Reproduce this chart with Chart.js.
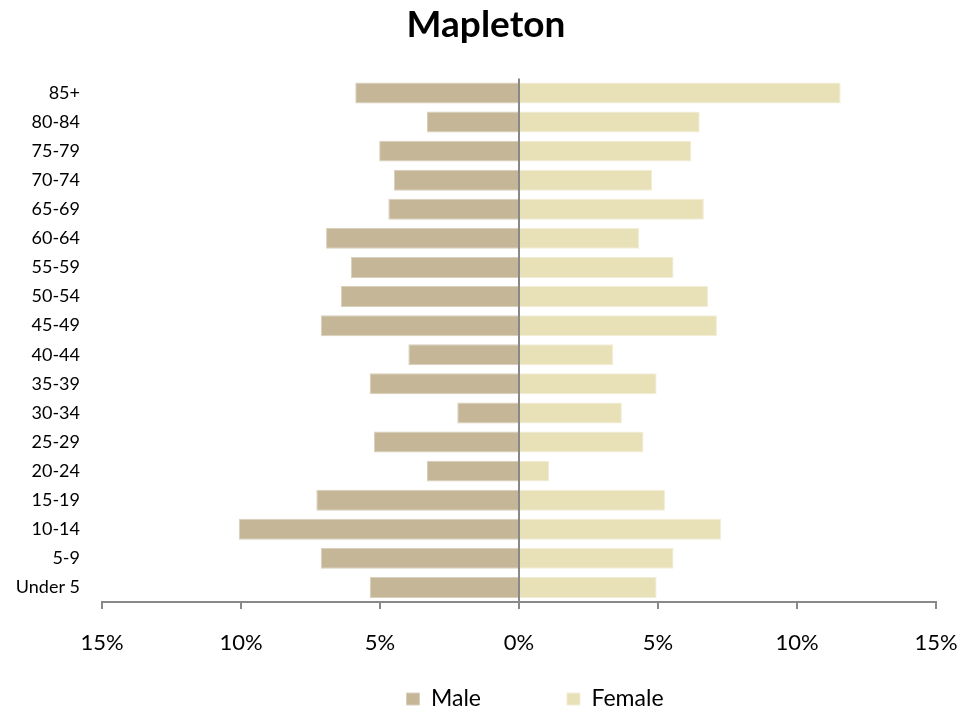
<!DOCTYPE html>
<html>
<head>
<meta charset="utf-8">
<script src="https://cdn.jsdelivr.net/npm/chart.js@4/dist/chart.umd.min.js"></script>
<style>
  html, body { margin: 0; padding: 0; background: #ffffff; }
  #wrap { width: 979px; height: 713px; }
</style>
</head>
<body>
<div id="wrap"><canvas id="c" width="979" height="713"></canvas></div>
<script>
// Age groups, youngest first (drawn bottom to top)
const ageGroups = ["Under 5","5-9","10-14","15-19","20-24","25-29","30-34","35-39","40-44","45-49","50-54","55-59","60-64","65-69","70-74","75-79","80-84","85+"];
// Percent of population
const malePct   = [5.37, 7.13, 10.08, 7.29, 3.31, 5.22, 2.22, 5.37, 3.98, 7.13, 6.41, 6.05, 6.94, 4.70, 4.50, 5.03, 3.31, 5.89];
const femalePct = [4.95, 5.56, 7.27, 5.25, 1.08, 4.48, 3.70, 4.95, 3.39, 7.12, 6.80, 5.56, 4.33, 6.65, 4.79, 6.20, 6.50, 11.57];
const xTicks = [-15, -10, -5, 0, 5, 10, 15];
const chartTitle = "Mapleton";
const seriesNames = ["Male", "Female"];

Chart.defaults.font.family = "Lato, 'Open Sans', sans-serif";
Chart.defaults.color = "#000000";

const axisGrey = "#898989";

// Nudges the title and legend boxes to where the reference puts them
const boxPlace = {
  id: "boxPlace",
  afterLayout(chart) {
    const t = chart.titleBlock;
    if (t) { t.left += 18; t.right += 18; }
    const lg = chart.legend;
    if (lg) {
      const shift = 67;
      lg.left += shift; lg.right += shift;
      const pad = lg.options.labels.padding;
      lg.top = 699 - pad - 11.5;
      lg.bottom = chart.height;
      lg.height = lg.bottom - lg.top;
    }
  }
};

new Chart(document.getElementById("c"), {
  type: "bar",
  data: {
    labels: ageGroups,
    datasets: [
      {
        label: seriesNames[0],
        data: malePct.map(v => -v),
        backgroundColor: "#C4B696",
        borderColor: "#D9D0BC",
        borderWidth: 1,
        barPercentage: 0.72,
        categoryPercentage: 1.0
      },
      {
        label: seriesNames[1],
        data: femalePct,
        backgroundColor: "#E8E1B8",
        borderColor: "#F2EDD6",
        borderWidth: 1,
        barPercentage: 0.72,
        categoryPercentage: 1.0
      }
    ]
  },
  options: {
    indexAxis: "y",
    responsive: false,
    animation: false,
    layout: { padding: { left: 0, right: 43, top: 0, bottom: 0 } },
    plugins: {
      title: {
        display: true,
        text: chartTitle,
        color: "#000000",
        font: { size: 37, weight: "bold" },
        padding: { top: 3, bottom: 31 }
      },
      legend: {
        display: true,
        position: "bottom",
        maxHeight: 40,
        labels: {
          boxWidth: 13,
          boxHeight: 12,
          padding: 86,
          color: "#000000",
          font: { size: 23 }
        }
      },
      tooltip: { enabled: false }
    },
    scales: {
      x: {
        type: "linear",
        stacked: true,
        min: xTicks[0],
        max: xTicks[xTicks.length - 1],
        z: 1,
        afterBuildTicks(scale) { scale.ticks = xTicks.map(v => ({ value: v })); },
        afterFit(scale) { scale.height = 71; },
        ticks: {
          stepSize: 5,
          padding: 21,
          color: "#000000",
          font: { size: 22 },
          maxRotation: 0,
          callback: (v) => Math.abs(v) + "%"
        },
        grid: {
          display: true,
          drawOnChartArea: true,
          drawTicks: true,
          tickLength: 7,
          tickWidth: 2,
          tickColor: axisGrey,
          lineWidth: 2,
          color: (ctx) => (ctx.tick && ctx.tick.value === 0) ? axisGrey : "rgba(0,0,0,0)"
        },
        border: { display: true, color: axisGrey, width: 2 }
      },
      y: {
        type: "category",
        stacked: true,
        reverse: true,
        afterFit(scale) { scale.width = 102; },
        ticks: {
          padding: 22,
          color: "#000000",
          font: { size: 18 },
          autoSkip: false
        },
        grid: { display: false, drawTicks: false },
        border: { display: false }
      }
    }
  },
  plugins: [boxPlace]
});
</script>
</body>
</html>
